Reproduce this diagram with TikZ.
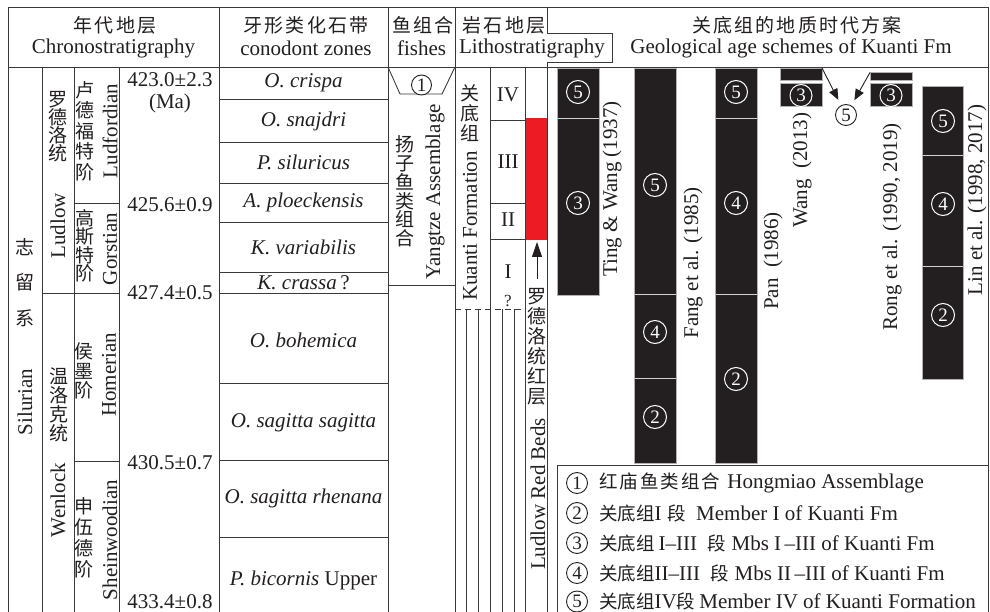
\documentclass[tikz,border=0pt]{standalone}
\usepackage{fontspec}
\setmainfont{Liberation Serif}
\newfontfamily\cjk{Noto Sans CJK SC}
\newfontfamily\cjkh[LetterSpace=11]{Noto Sans CJK SC}
\usetikzlibrary{arrows.meta}
\definecolor{ink}{HTML}{231F20}
\definecolor{lineg}{HTML}{3A3A3A}
\definecolor{redbed}{HTML}{ED1C24}
\newcommand{\zhtxt}[1]{{\cjk\fontsize{18.5}{20}\selectfont #1}}
\newcommand{\zhsp}[1]{{\cjkh\fontsize{18.5}{20}\selectfont #1}}
\tikzset{
  tl/.style={draw=lineg, line width=0.9pt},
  lat/.style={font=\fontsize{21}{24}\selectfont, text=ink, inner sep=0pt},
  ita/.style={font=\fontsize{21}{24}\selectfont\itshape, text=ink, inner sep=0pt},
  vcn/.style={font=\cjk\fontsize{19}{#1}\selectfont, align=center, text=ink, inner sep=0pt},
  vcn/.default=19.5,
  hcn/.style={font=\cjkh\fontsize{19}{21}\selectfont, text=ink, inner sep=0pt},
  rot/.style={lat, rotate=90},
  wcirc/.style={circle, draw=white, line width=1pt, text=white, inner sep=0pt, minimum size=23pt, font=\fontsize{19}{19}\selectfont},
  bcirc/.style={circle, draw=ink, line width=0.9pt, text=ink, fill=white, inner sep=0pt, minimum size=21pt, font=\fontsize{19}{19}\selectfont},
  barfill/.style={fill=ink, draw=gray!60, line width=0.5pt},
  divl/.style={draw=gray!35, line width=1pt},
  legtxt/.style={lat, anchor=west},
  arr/.style={draw=ink, line width=0.9pt, -{Triangle[length=11pt,width=9pt]}},
}
\begin{document}
\begin{tikzpicture}[x=1pt,y=-1pt]
\useasboundingbox[fill=white] (0,0) rectangle (990,612);

% red bed bar
\fill[redbed] (525.5,118) rectangle (546.5,240);

% ---------- frame and grid ----------
\draw[tl] (8,612) -- (8,7) -- (988,7) -- (988,612);
\draw[tl] (8,67) -- (988,67);
\draw[tl] (547,7) -- (547,33) -- (612,33) -- (612,62) -- (547,62) -- (547,612);
\draw[tl] (219,7) -- (219,612);
\draw[tl] (388,7) -- (388,612);
\draw[tl] (455,7) -- (455,612);
\draw[tl] (42,67) -- (42,612);
\draw[tl] (74,67) -- (74,612);
\draw[tl] (119,67) -- (119,612);
\draw[tl] (74,203) -- (119,203);
\draw[tl] (42,293) -- (119,293);
\draw[tl] (74,461) -- (119,461);
\foreach \yy in {99.5,142,183,222,272,293,383,460,537}
  \draw[tl] (219,\yy) -- (388,\yy);
% fishes
\draw[tl] (388,67) -- (400,94) -- (442,94) -- (455,67);
\draw[tl] (388,285) -- (455,285);
% litho
\draw[tl] (490,67) -- (490,612);
\draw[tl] (525,67) -- (525,612);
\draw[tl] (490,120) -- (525,120);
\draw[tl] (490,203) -- (525,203);
\draw[tl] (490,239) -- (525,239);
\draw[tl, dash pattern=on 6pt off 4pt] (455,309) -- (525,309);
\foreach \xx in {466,478,502,514}
  \draw[tl] (\xx,309) -- (\xx,612);
% legend box
\draw[tl] (557,612) -- (557,465) -- (988,465);

% ---------- headers ----------
\node[hcn] (h1c) at (115,25) {年代地层};
\node[lat] (h1e) at (113.5,48) {Chronostratigraphy};
\node[hcn] (h2c) at (306,25) {牙形类化石带};
\node[lat] (h2e) at (306,48) {conodont zones};
\node[hcn] (h3c) at (423,25) {鱼组合};
\node[lat] (h3e) at (421.5,48) {fishes};
\node[hcn] (h4c) at (504,25) {岩石地层};
\node[lat] (h4e) at (532,48) {Lithostratigraphy};
\node[hcn] (h5c) at (797,25) {关底组的地质时代方案};
\node[lat] (h5e) at (791,48) {Geological age schemes of Kuanti Fm};

% ---------- chronostratigraphy ----------
\node[vcn=35.5] (sys) at (25,282.5) {志\\留\\系};
\node[rot] (sysE) at (25,402) {Silurian};
\node[vcn=18] (ser1) at (58,127) {罗\\德\\洛\\统};
\node[rot] (ser1E) at (58,226) {Ludlow};
\node[vcn=19] (ser2) at (59,405) {温\\洛\\克\\统};
\node[rot] (ser2E) at (58,500) {Wenlock};
\node[vcn=20.5] (st1) at (85,131) {卢\\德\\福\\特\\阶};
\node[rot] (st1E) at (110,131) {Ludfordian};
\node[vcn=18.5] (st2) at (85,246) {高\\斯\\特\\阶};
\node[rot] (st2E) at (110,249) {Gorstian};
\node[vcn=19.5] (st3) at (84,371) {侯\\墨\\阶};
\node[rot] (st3E) at (109,375) {Homerian};
\node[vcn=21] (st4) at (84,538) {申\\伍\\德\\阶};
\node[rot] (st4E) at (110,540) {Sheinwoodian};
\node[lat] (a1) at (170,80) {423.0±2.3};
\node[lat] (a1m) at (170,103) {(Ma)};
\node[lat] (a2) at (170,205) {425.6±0.9};
\node[lat] (a3) at (170,293) {427.4±0.5};
\node[lat] (a4) at (170,463) {430.5±0.7};
\node[lat] (a5) at (170,602) {433.4±0.8};

% ---------- conodont zones ----------
\node[ita] (z1) at (303.5,83) {O. crispa};
\node[ita] (z2) at (303.5,121) {O. snajdri};
\node[ita] (z3) at (303.5,162.5) {P. siluricus};
\node[ita] (z4) at (303.5,202.5) {A. ploeckensis};
\node[ita] (z5) at (303.5,247) {K. variabilis};
\node[ita] (z6) at (303.5,282.5) {K. crassa\,\upshape ?};
\node[ita] (z7) at (303.5,340) {O. bohemica};
\node[ita] (z8) at (303.5,423) {O. sagitta sagitta};
\node[ita] (z9) at (303.5,498.5) {O. sagitta rhenana};
\node[ita] (z10) at (303.5,580) {P. bicornis \upshape Upper};

% ---------- fishes ----------
\node[bcirc, minimum size=20pt] (f1) at (421.5,85) {1};
\node[vcn=18.8] (fcn) at (405,191.5) {扬\\子\\鱼\\类\\组\\合};
\node[rot] (fen) at (435,192) {Yangtze Assemblage};

% ---------- lithostratigraphy ----------
\node[vcn=20] (kcn) at (470,113) {关\\底\\组};
\node[rot] (ken) at (470,226) {Kuanti Formation};
\node[lat] (m4) at (508,95) {IV};
\node[lat] (m3) at (508,162) {III};
\node[lat] (m2) at (508,220) {II};
\node[lat] (m1) at (508,272) {I};
\node[lat, font=\fontsize{17}{18}\selectfont] (mq) at (508,301) {?};
\node[vcn=20] (rcn) at (537,347) {罗\\德\\洛\\统\\红\\层};
\node[rot] (ren) at (538,494) {Ludlow Red Beds};
\coordinate (rarS) at (537,279);
\coordinate (rarT) at (537,242);
\draw[draw=ink, line width=0.9pt, -{Triangle[length=15pt,width=10pt]}] (rarS) -- (rarT);

% ---------- schemes ----------
% Ting & Wang
\path[barfill] (557,68) rectangle (599,295);
\draw[divl] (557.5,119) -- (598.5,119);
\node[wcirc] (b1a) at (578,92) {5};
\node[wcirc] (b1b) at (578,203) {3};
\node[rot] (b1t) at (612,189) {Ting \& Wang (1937)};
% Fang et al.
\path[barfill] (634,68) rectangle (676,463);
\draw[divl] (634.5,294) -- (675.5,294);
\draw[divl] (634.5,378) -- (675.5,378);
\node[wcirc] (b2a) at (655,185) {5};
\node[wcirc] (b2b) at (655,332) {4};
\node[wcirc] (b2c) at (655,417) {2};
\node[rot] (b2t) at (693,263) {Fang et al. (1985)};
% Pan
\path[barfill] (715,68) rectangle (757,463);
\draw[divl] (715.5,119) -- (756.5,119);
\draw[divl] (715.5,294) -- (756.5,294);
\node[wcirc] (b3a) at (736,92) {5};
\node[wcirc] (b3b) at (736,203) {4};
\node[wcirc] (b3c) at (736,379) {2};
\node[rot] (b3t) at (773,261) {Pan\ \ (1986)};
% Wang
\path[barfill] (780,68) rectangle (822,80.5);
\path[barfill] (780,83) rectangle (822,106.5);
\node[wcirc, minimum size=22pt] (b4a) at (801,95.5) {3};
\node[rot] (b4t) at (802,170) {Wang\ \ (2013)};
% Rong et al.
\path[barfill] (870,72) rectangle (912,80.5);
\path[barfill] (870,83) rectangle (912,106.5);
\node[wcirc, minimum size=22pt] (b5a) at (891,95.5) {3};
\node[rot] (b5t) at (892,227) {Rong et al. (1990, 2019)};
% merged member IV
\node[bcirc] (c5) at (846,115) {5};
\coordinate (wangTR) at (822,68);
\coordinate (rongTL) at (870,72.5);
\draw[arr, shorten >=6pt] (wangTR) -- (c5);
\draw[arr, shorten >=6pt] (rongTL) -- (c5);
% Lin et al.
\path[barfill] (922,86) rectangle (963,379);
\draw[divl] (922.5,156) -- (962.5,156);
\draw[divl] (922.5,267) -- (962.5,267);
\node[wcirc] (b6a) at (943,121) {5};
\node[wcirc] (b6b) at (943,204) {4};
\node[wcirc] (b6c) at (943,315) {2};
\node[rot] (b6t) at (977,200) {Lin et al. (1998, 2017)};

% ---------- legend ----------
\node[bcirc] (l1c) at (577,483) {1};
\node[bcirc] (l2c) at (577,513) {2};
\node[bcirc] (l3c) at (577,543) {3};
\node[bcirc] (l4c) at (577,573) {4};
\node[bcirc] (l5c) at (577,601.5) {5};
\node[legtxt] (l1t) at (599,483) {\zhsp{红庙鱼类组合}\hspace{7pt}Hongmiao Assemblage};
\node[legtxt] (l2t) at (599,513) {\zhtxt{关底组}I\hspace{6pt}\zhtxt{段}\hspace{10pt}Member I of Kuanti Fm};
\node[legtxt] (l3t) at (599,543) {\zhtxt{关底组}\hspace{4pt}I–III\hspace{10pt}\zhtxt{段}\hspace{6pt}Mbs I\,–III of Kuanti Fm};
\node[legtxt] (l4t) at (599,573) {\zhtxt{关底组}II–III\hspace{10pt}\zhtxt{段}\hspace{6pt}Mbs II\,–III of Kuanti Fm};
\node[legtxt] (l5t) at (599,601.5) {\zhtxt{关底组}IV\zhtxt{段}\hspace{4pt}Member IV of Kuanti Formation};
\end{tikzpicture}
\end{document}
